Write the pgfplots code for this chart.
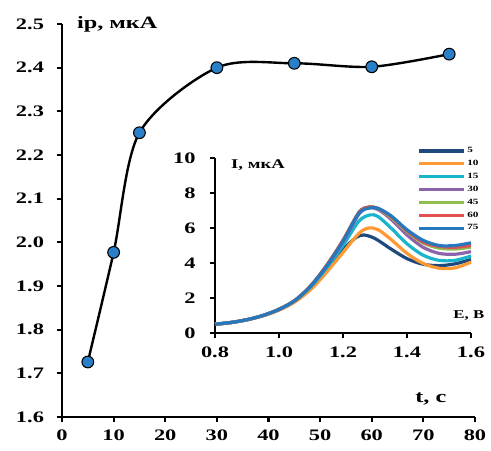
\documentclass[border=0pt]{standalone}
\usepackage{graphicx}
\usepackage{pgfplots}
\pgfplotsset{compat=1.18}
\usepackage{fontspec}
\setmainfont{Liberation Serif}
\newcommand{\sx}[1]{\scalebox{1.4}[1]{#1}}
\definecolor{mk}{RGB}{41,128,200}
\definecolor{c5}{RGB}{31,73,125}
\definecolor{c10}{RGB}{255,153,51}
\definecolor{c15}{RGB}{23,180,204}
\definecolor{c30}{RGB}{140,100,170}
\definecolor{c45}{RGB}{140,190,80}
\definecolor{c60}{RGB}{228,80,80}
\definecolor{c75}{RGB}{38,120,190}
\begin{document}
\begin{tikzpicture}[x=1pt,y=1pt]
\useasboundingbox (0,0) rectangle (368.25,337.5);
\begin{axis}[
  at={(46.5pt,24.75pt)}, anchor=south west,
  scale only axis, width=309.75pt, height=294.75pt,
  xmin=0, xmax=80, ymin=1.6, ymax=2.5,
  axis lines=left, axis line style={line width=1.6pt,-},
  xtick={0,10,...,80}, ytick={1.6,1.7,...,2.5},
  tick style={line width=1.6pt,black}, tick align=outside, major tick length=4pt,
  /pgf/number format/assume math mode=true,
  xticklabel={\sx{\pgfmathprintnumber{\tick}}},
  yticklabel={\sx{\pgfmathprintnumber{\tick}}},
  xticklabel style={font=\bfseries\fontsize{12}{12}\selectfont, yshift=-2pt},
  yticklabel style={font=\bfseries\fontsize{12}{12}\selectfont, xshift=-6pt,/pgf/number format/.cd,fixed,fixed zerofill,precision=1},
  clip=false,
]
\addplot[black, line width=1.8pt, smooth, mark=*, mark size=4.4pt,
  mark options={fill=mk, draw=black, line width=0.8pt}] coordinates {
  (5,1.726) (10,1.977) (15,2.251) (30,2.400) (45,2.410) (60,2.402) (75,2.431)};
\node[anchor=west, font=\bfseries\fontsize{13}{13}\selectfont] at (rel axis cs:0.025,1) {\sx{ip, мкА}};
\node[font=\bfseries\fontsize{13}{13}\selectfont] at (rel axis cs:0.893,0.045) {\sx{t, с}};
\end{axis}
\begin{axis}[
  at={(161.25pt,87.75pt)}, anchor=south west,
  scale only axis, width=192pt, height=131.25pt,
  xmin=0.8, xmax=1.6, ymin=0, ymax=10,
  axis lines=left, axis line style={line width=1.6pt,-},
  xtick={0.8,1.0,...,1.6}, ytick={0,2,...,10},
  tick style={line width=1.6pt,black}, tick align=outside, major tick length=4pt,
  /pgf/number format/assume math mode=true,
  xticklabel={\sx{\pgfmathprintnumber{\tick}}},
  yticklabel={\sx{\pgfmathprintnumber{\tick}}},
  xticklabel style={font=\bfseries\fontsize{12}{12}\selectfont, yshift=-3pt,/pgf/number format/.cd,fixed,fixed zerofill,precision=1},
  yticklabel style={font=\bfseries\fontsize{12}{12}\selectfont, xshift=-7pt},
  clip=false,
  legend style={at={(0.79,1.07)}, anchor=north west, draw=none, fill=none,
    font=\bfseries\fontsize{6}{6}\selectfont, row sep=2.2pt, inner sep=0pt,
    nodes={inner sep=1pt}},
  legend cell align=left,
  legend image code/.code={\draw[#1, line width=2.4pt] (0pt,0pt) -- (34pt,0pt);},
]
\addplot[c5, line width=2.4pt, smooth] coordinates {
 (0.8,0.5) (0.85,0.6) (0.9,0.76) (0.95,1.0) (1.0,1.35) (1.05,1.85) (1.1,2.6) (1.15,3.65) (1.2,4.75) (1.24,5.45) (1.265,5.6) (1.3,5.4) (1.35,4.8) (1.4,4.25) (1.45,3.93) (1.5,3.85) (1.55,3.95) (1.6,4.2)};
\addlegendentry{\sx{5}}
\addplot[c10, line width=2.4pt, smooth] coordinates {
 (0.8,0.5) (0.85,0.6) (0.9,0.75) (0.95,0.98) (1.0,1.3) (1.05,1.78) (1.1,2.5) (1.15,3.5) (1.2,4.6) (1.25,5.7) (1.28,6.0) (1.31,5.9) (1.35,5.35) (1.4,4.55) (1.45,3.98) (1.5,3.7) (1.55,3.72) (1.6,4.05)};
\addlegendentry{\sx{10}}
\addplot[c15, line width=2.4pt, smooth] coordinates {
 (0.8,0.5) (0.85,0.6) (0.9,0.76) (0.95,1.0) (1.0,1.35) (1.05,1.85) (1.1,2.65) (1.15,3.75) (1.2,5.0) (1.25,6.4) (1.285,6.75) (1.31,6.65) (1.35,6.0) (1.4,5.1) (1.45,4.45) (1.5,4.15) (1.55,4.15) (1.6,4.4)};
\addlegendentry{\sx{15}}
\addplot[c30, line width=2.4pt, smooth] coordinates {
 (0.8,0.5) (0.85,0.6) (0.9,0.76) (0.95,1.0) (1.0,1.35) (1.05,1.86) (1.1,2.7) (1.15,3.85) (1.2,5.2) (1.25,6.8) (1.28,7.15) (1.31,7.05) (1.35,6.5) (1.4,5.6) (1.45,4.9) (1.5,4.55) (1.55,4.5) (1.6,4.65)};
\addlegendentry{\sx{30}}
\addplot[c45, line width=2.4pt, smooth] coordinates {
 (0.8,0.5) (0.85,0.6) (0.9,0.76) (0.95,1.0) (1.0,1.35) (1.05,1.87) (1.1,2.72) (1.15,3.9) (1.2,5.3) (1.25,6.9) (1.28,7.2) (1.31,7.1) (1.35,6.6) (1.4,5.8) (1.45,5.15) (1.5,4.85) (1.55,4.8) (1.6,4.9)};
\addlegendentry{\sx{45}}
\addplot[c60, line width=2.4pt, smooth] coordinates {
 (0.8,0.5) (0.85,0.6) (0.9,0.76) (0.95,1.0) (1.0,1.35) (1.05,1.87) (1.1,2.72) (1.15,3.9) (1.2,5.3) (1.25,6.9) (1.28,7.2) (1.31,7.12) (1.35,6.65) (1.4,5.85) (1.45,5.2) (1.5,4.95) (1.55,4.9) (1.6,5.0)};
\addlegendentry{\sx{60}}
\addplot[c75, line width=2.4pt, smooth] coordinates {
 (0.8,0.5) (0.85,0.6) (0.9,0.76) (0.95,1.0) (1.0,1.35) (1.05,1.86) (1.1,2.7) (1.15,3.85) (1.2,5.25) (1.25,6.85) (1.285,7.15) (1.31,7.12) (1.35,6.7) (1.4,5.9) (1.45,5.3) (1.5,5.0) (1.55,5.0) (1.6,5.15)};
\addlegendentry{\sx{75}}
\node[anchor=west, font=\bfseries\fontsize{10}{10}\selectfont] at (rel axis cs:0.045,0.96) {\sx{I, мкА}};
\node[anchor=east, font=\bfseries\fontsize{9}{9}\selectfont] at (rel axis cs:1.07,0.1) {\sx{E, В}};
\end{axis}
\end{tikzpicture}
\end{document}
